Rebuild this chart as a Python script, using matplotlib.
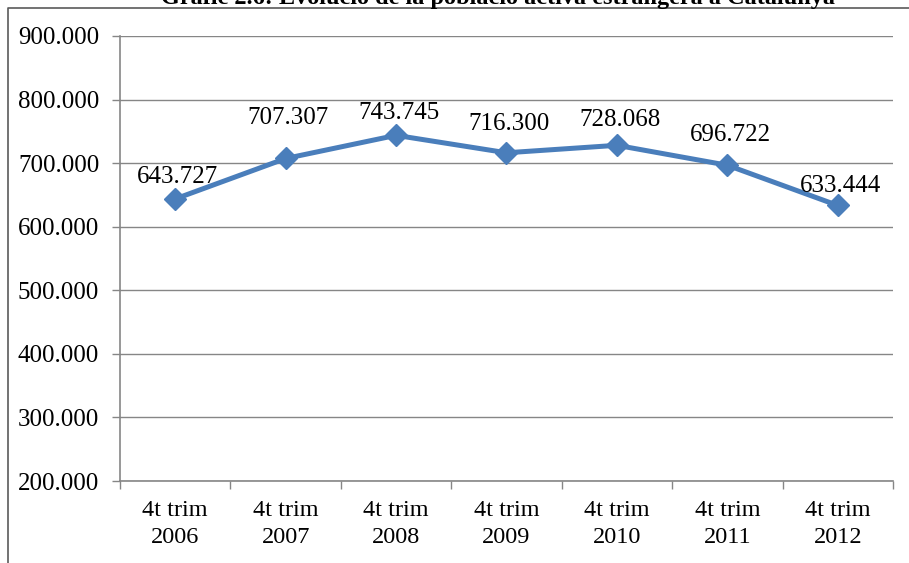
import matplotlib
matplotlib.use('Agg')
import matplotlib.pyplot as plt
from matplotlib.lines import Line2D

# data
periods = ['4t trim\n2006', '4t trim\n2007', '4t trim\n2008', '4t trim\n2009',
           '4t trim\n2010', '4t trim\n2011', '4t trim\n2012']
actius = [643727, 707307, 743745, 716300, 728068, 696722, 633444]
labels = ['643.727', '707.307', '743.745', '716.300', '728.068', '696.722', '633.444']
yticks = [200000, 300000, 400000, 500000, 600000, 700000, 800000, 900000]
ytick_labels = ['200.000', '300.000', '400.000', '500.000', '600.000', '700.000', '800.000', '900.000']
title = 'Gràfic 2.6: Evolució de la població activa estrangera a Catalunya'

# label vertical offsets (points)
label_dy = [16, 29, 16, 21, 18, 22, 14]

plt.rcParams['font.family'] = ['Liberation Serif', 'DejaVu Serif']

fig = plt.figure(figsize=(9.09, 5.63), dpi=100)
ax = fig.add_axes([120/909, 1 - 481/563, (893 - 120)/909, (481 - 36)/563])

x = list(range(len(actius)))
ax.plot(x, actius, color='#4A7EBB', linewidth=3.6, marker='D', markersize=11,
        markerfacecolor='#4A7EBB', markeredgecolor='#4A7EBB', zorder=3)

for xi, v, lab, dy in zip(x, actius, labels, label_dy):
    ax.annotate(lab, (xi, v), xytext=(2, dy), textcoords='offset points',
                ha='center', va='center', fontsize=18, color='black')

ax.set_xlim(-0.5, len(actius) - 0.5)
ax.set_ylim(200000, 900000)
ax.set_yticks(yticks)
ax.set_yticklabels(ytick_labels, fontsize=18)
ax.set_xticks(x)
ax.set_xticklabels(periods, fontsize=17.5, linespacing=1.35)
ax.tick_params(axis='x', length=0, pad=14)
ax.tick_params(axis='y', length=6, width=1, color='#868686', direction='out', pad=9)

# category boundary ticks
ax.set_xticks([i - 0.5 for i in range(len(actius) + 1)], minor=True)
ax.tick_params(axis='x', which='minor', length=6, width=1, color='#868686', direction='out')

ax.yaxis.grid(True, color='#868686', linewidth=1)
ax.set_axisbelow(True)
for s in ['top', 'right']:
    ax.spines[s].set_visible(False)
for s in ['left', 'bottom']:
    ax.spines[s].set_color('#868686')
    ax.spines[s].set_linewidth(1.2)

fig.text(498/909, 1 - 4/563, title, ha='center', va='baseline', fontsize=17.5, fontweight='bold')

# outer chart border
fig.add_artist(Line2D([8/909, 8/909, 1.02], [-0.02, 1 - 8/563, 1 - 8/563],
                      transform=fig.transFigure, color='#5a5a5a', linewidth=1.2))

fig.savefig('out.png', dpi=100)
